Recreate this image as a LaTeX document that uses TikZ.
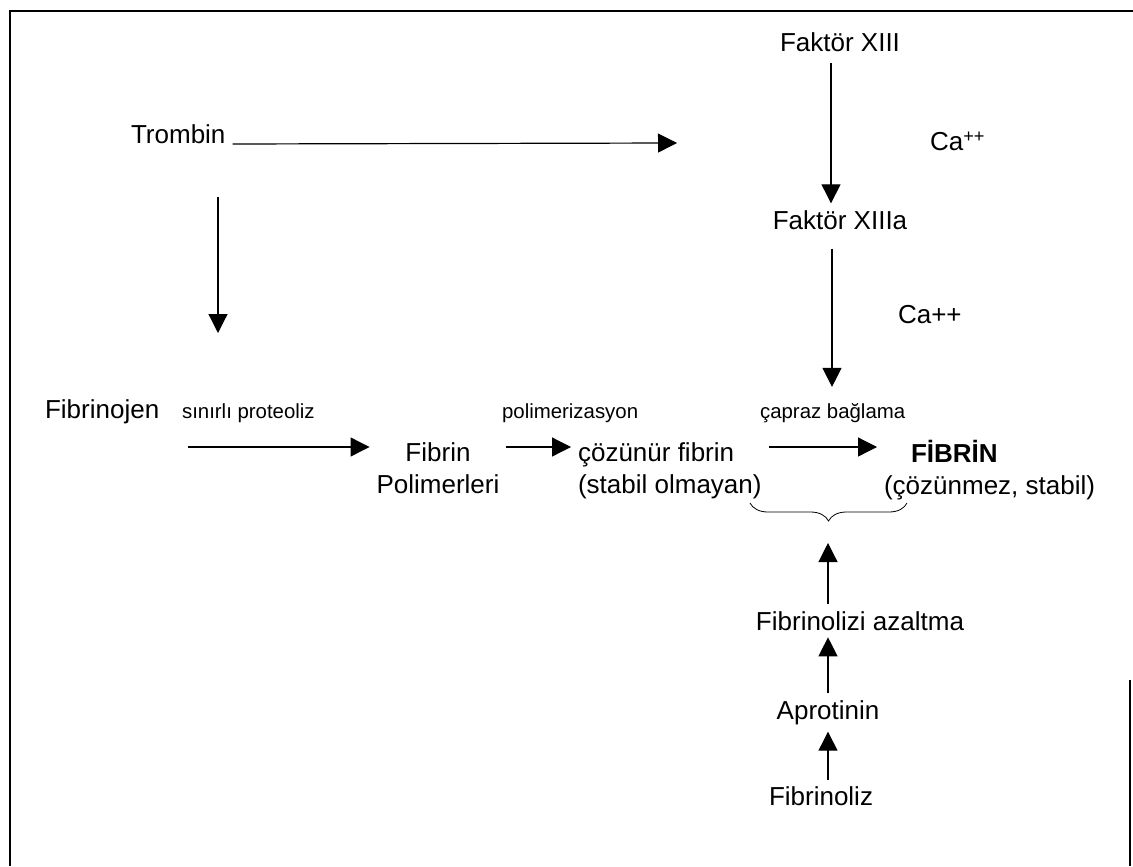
\documentclass[tikz,border=0pt]{standalone}
\usepackage{fontspec}
\setmainfont{Liberation Sans}
\usetikzlibrary{positioning}
\usetikzlibrary{arrows.meta}
\usetikzlibrary{decorations.pathreplacing}

\tikzset{
  lbl/.style={font=\fontsize{13pt}{16pt}\selectfont},
  note/.style={font=\fontsize{10.2pt}{12pt}\selectfont},
  arr/.style={-{Triangle[length=9.5pt,width=9.5pt]}, line width=0.6pt},
}

\begin{document}
\begin{tikzpicture}[x=0.5pt, y=-0.5pt]
    \useasboundingbox (0,0) rectangle (1133,866) ;
% frame
    \draw[line width=0.9pt] (10,866) -- (10,11) -- (1133,11) ;
    \draw[line width=0.9pt] (1130,680) -- (1130,866) ;
% thrombin and factor XIII
    \node[lbl, anchor=base west] (trombin) at (124,144) {Trombin} ; %
    \node[lbl, anchor=base] (xiii) at (840,52) {Faktör XIII} ; %
    \node[lbl, below=72pt of xiii] (xiiia) {Faktör XIIIa} ; %
    \node[lbl, anchor=base west] (ca_top) at (923,151) {Ca\textsuperscript{++}} ; %
    \node[lbl, anchor=base west] (ca_mid) at (891,323) {Ca++} ; %
    \coordinate (activate) at (677,143) ; %
    \coordinate (cleave) at (218,333) ; %
    \coordinate (col) at (831,0) ; %
    \coordinate (xlink) at (832,0) ; %
% fibrinogen to fibrin
    \node[lbl, anchor=base west] (fibrinojen) at (38,418) {Fibrinojen} ; %
    \node[note, anchor=base west] (proteoliz) at (175,418) {sınırlı proteoliz} ; %
    \node[note, anchor=base west] (polimerizasyon) at (495,418) {polimerizasyon} ; %
    \node[note, anchor=base west] (capraz) at (753,418) {çapraz bağlama} ; %
    \node[lbl, align=center] (polimer) at (438,468) {Fibrin\\Polimerleri} ; %
    \node[lbl, align=left, anchor=west] (cozunur) at (571,471) {çözünür fibrin\\(stabil olmayan)} ; %
    \node[lbl, anchor=base west] (fibrin) at (904,462) {\textbf{FİBRİN}} ; %
    \node[lbl, anchor=base west] (fibrin_desc) at (877,494) {(çözünmez, stabil)} ; %
    \coordinate (row) at (0,447) ; %
    \coordinate (proteo_start) at (188,447) ; %
% fibrinolysis
    \coordinate (brace_l) at (750,503) ; %
    \coordinate (brace_r) at (907,503) ; %
    \coordinate (brace_tip) at (828,522) ; %
    \node[lbl, anchor=base] (azaltma) at (860,630) {Fibrinolizi azaltma} ; %
    \node[lbl, below=28pt of azaltma, xshift=-16pt] (aprotinin) {Aprotinin} ; %
    \node[lbl, below=24pt of aprotinin, xshift=-3.5pt] (fibrinoliz) {Fibrinoliz} ; %
% edges
    \draw[arr] (trombin.base east) -- (activate) ; %
    \draw[arr, shorten <=23pt] (trombin.south -| cleave) -- (cleave) ; %
    \draw[arr, shorten <=2pt] (xiii.south -| col) -- (xiiia.north -| col) ; %
    \draw[arr, shorten <=6pt, shorten >=4.5pt] (xiiia.south -| xlink) -- (capraz.north -| xlink) ; %
    \draw[arr] (proteo_start) -- (polimer.west |- row) ; %
    \draw[arr] (polimer.east |- row) -- (cozunur.west |- row) ; %
    \draw[arr] (cozunur.east |- row) -- (fibrin_desc.west |- row) ; %
    \draw[decorate, decoration={brace, mirror, amplitude=9pt}] (brace_l) -- (brace_r) ; %
    \draw[arr, shorten >=10.5pt] (azaltma.north -| brace_tip) -- (brace_tip) ; %
    \draw[arr] (aprotinin.north -| brace_tip) -- (azaltma.south -| brace_tip) ; %
    \draw[arr] (fibrinoliz.north -| brace_tip) -- (aprotinin.south -| brace_tip) ; %
\end{tikzpicture}
\end{document}
